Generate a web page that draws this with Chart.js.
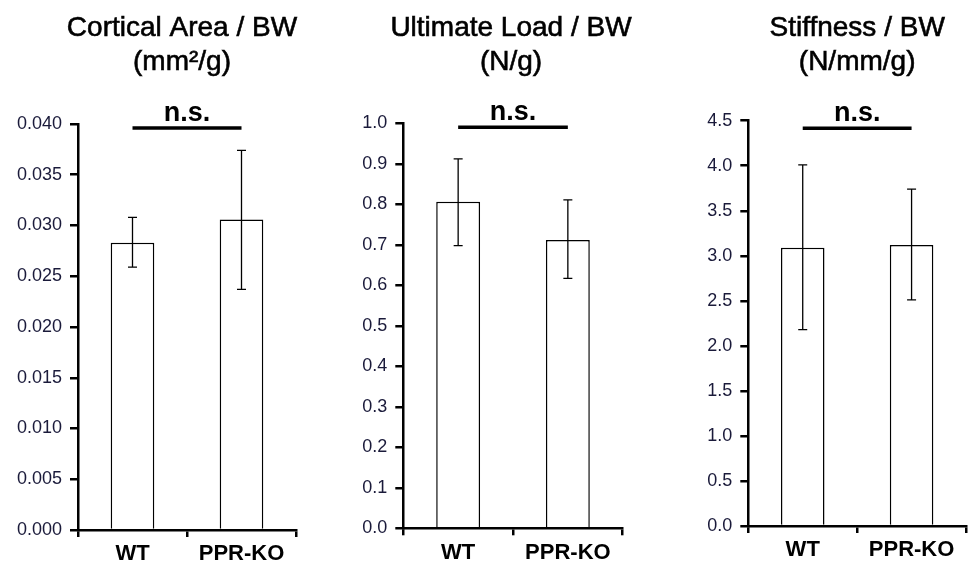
<!DOCTYPE html>
<html><head><meta charset="utf-8">
<script src="https://cdn.jsdelivr.net/npm/chart.js@4.4.1/dist/chart.umd.min.js"></script>
<style>
html,body{margin:0;padding:0;background:#fff;overflow:hidden}
#wrap{position:relative;width:970px;height:564px;overflow:hidden;background:#fff}
.p{position:absolute;top:0;height:564px}
canvas{display:block}
</style></head><body>
<div id="wrap">
<div class="p" style="left:0;width:320px"><canvas id="c1" width="320" height="564"></canvas></div>
<div class="p" style="left:320px;width:320px"><canvas id="c2" width="320" height="564"></canvas></div>
<div class="p" style="left:640px;width:330px"><canvas id="c3" width="330" height="564"></canvas></div>
</div>
<script>
// ---- data ----
const categories = ['WT', 'PPR-KO'];

const title1 = ['Cortical Area / BW', '(mm\u00B2/g)'];
const means1 = [0.0283, 0.0306];
const errHigh1 = [0.0308, 0.0374];
const errLow1 = [0.0259, 0.0237];
const yTicks1 = [0, 0.005, 0.010, 0.015, 0.020, 0.025, 0.030, 0.035, 0.040];
const yLabels1 = ['0.000', '0.005', '0.010', '0.015', '0.020', '0.025', '0.030', '0.035', '0.040'];

const title2 = ['Ultimate Load / BW', '(N/g)'];
const means2 = [0.806, 0.712];
const errHigh2 = [0.912, 0.811];
const errLow2 = [0.698, 0.617];
const yTicks2 = [0, 0.1, 0.2, 0.3, 0.4, 0.5, 0.6, 0.7, 0.8, 0.9, 1.0];
const yLabels2 = ['0.0', '0.1', '0.2', '0.3', '0.4', '0.5', '0.6', '0.7', '0.8', '0.9', '1.0'];

const title3 = ['Stiffness / BW', '(N/mm/g)'];
const means3 = [3.09, 3.12];
const errHigh3 = [4.01, 3.74];
const errLow3 = [2.18, 2.51];
const yTicks3 = [0, 0.5, 1.0, 1.5, 2.0, 2.5, 3.0, 3.5, 4.0, 4.5];
const yLabels3 = ['0.0', '0.5', '1.0', '1.5', '2.0', '2.5', '3.0', '3.5', '4.0', '4.5'];

const sigLabels = ['n.s.', 'n.s.', 'n.s.'];
const bracketValues = [0.0396, 0.99, 4.415];

// ---- plugins ----
const errorBars = {
  id: 'errorBars',
  afterDatasetsDraw(chart, args, opts) {
    const ctx = chart.ctx, y = chart.scales.y;
    const meta = chart.getDatasetMeta(0);
    ctx.save();
    ctx.strokeStyle = '#000';
    ctx.lineWidth = 1.3;
    meta.data.forEach((bar, i) => {
      const x = bar.x;
      const yh = y.getPixelForValue(opts.high[i]);
      const yl = y.getPixelForValue(opts.low[i]);
      ctx.beginPath();
      ctx.moveTo(x, yh); ctx.lineTo(x, yl);
      ctx.moveTo(x - 4.5, yh); ctx.lineTo(x + 4.5, yh);
      ctx.moveTo(x - 4.5, yl); ctx.lineTo(x + 4.5, yl);
      ctx.stroke();
    });
    ctx.restore();
  }
};

const sigBracket = {
  id: 'sigBracket',
  afterDraw(chart, args, opts) {
    const ctx = chart.ctx, y = chart.scales.y;
    const meta = chart.getDatasetMeta(0);
    const x0 = meta.data[0].x, x1 = meta.data[1].x;
    const yy = y.getPixelForValue(opts.value);
    ctx.save();
    ctx.strokeStyle = '#000';
    ctx.lineWidth = 3.5;
    ctx.beginPath();
    ctx.moveTo(x0, yy); ctx.lineTo(x1, yy);
    ctx.stroke();
    ctx.fillStyle = '#000';
    ctx.font = 'bold 27px "Liberation Sans", Arial, sans-serif';
    ctx.textAlign = 'center';
    ctx.textBaseline = 'alphabetic';
    ctx.fillText(opts.label, (x0 + x1) / 2, yy - 7);
    ctx.restore();
  }
};

const panelTitle = {
  id: 'panelTitle',
  afterDraw(chart, args, opts) {
    const ctx = chart.ctx, a = chart.chartArea;
    const cx = (a.left + a.right) / 2 + opts.dx;
    ctx.save();
    ctx.fillStyle = '#000';
    ctx.strokeStyle = '#000';
    ctx.lineWidth = 0.6;
    ctx.font = '28px "Liberation Sans", Arial, sans-serif';
    ctx.textAlign = 'center';
    ctx.textBaseline = 'middle';
    opts.lines.forEach((t, i) => {
      ctx.fillText(t, cx, 28 + i * 34);
      ctx.strokeText(t, cx, 28 + i * 34);
    });
    ctx.restore();
  }
};

function makeChart(id, d) {
  const axisFont = '"Liberation Sans", Arial, sans-serif';
  return new Chart(document.getElementById(id), {
    type: 'bar',
    data: {
      labels: categories,
      datasets: [{
        data: d.means,
        backgroundColor: '#ffffff',
        borderColor: '#000000',
        borderWidth: 1.5,
        categoryPercentage: 1,
        barPercentage: 0.4
      }]
    },
    plugins: [errorBars, sigBracket, panelTitle],
    options: {
      responsive: false,
      animation: false,
      devicePixelRatio: 1,
      layout: { padding: { left: 0, right: d.padRight, top: d.top, bottom: 0 } },
      plugins: {
        legend: { display: false },
        tooltip: { enabled: false },
        title: { display: false },
        panelTitle: { lines: d.title, dx: d.dx },
        errorBars: { high: d.high, low: d.low },
        sigBracket: { value: d.bracket, label: d.sig }
      },
      scales: {
        x: {
          grid: { display: true, drawOnChartArea: false, drawTicks: true, tickLength: 7, color: '#000', lineWidth: 2.5, offset: true },
          border: { display: true, color: '#000', width: 2.5 },
          ticks: { color: '#000', font: { family: axisFont, size: 22, weight: 'bold' }, padding: 4, maxRotation: 0 },
          afterFit(s) { s.height = d.xh; }
        },
        y: {
          min: 0,
          max: d.ticks[d.ticks.length - 1],
          afterBuildTicks(s) { s.ticks = d.ticks.map(v => ({ value: v })); },
          grid: { display: true, drawOnChartArea: false, drawTicks: true, tickLength: 8, color: '#000', lineWidth: 2.5 },
          border: { display: true, color: '#000', width: 2.5 },
          ticks: { color: '#1a1a3a', font: { family: axisFont, size: 18 }, padding: 8, callback: (v, i) => d.labels[i] },
          afterFit(s) { s.width = d.yw; }
        }
      }
    }
  });
}

makeChart('c1', { title: title1, means: means1, high: errHigh1, low: errLow1, ticks: yTicks1, labels: yLabels1,
  sig: sigLabels[0], bracket: bracketValues[0], yw: 78, padRight: 24, xh: 34, top: 124, dx: -5 });
makeChart('c2', { title: title2, means: means2, high: errHigh2, low: errLow2, ticks: yTicks2, labels: yLabels2,
  sig: sigLabels[1], bracket: bracketValues[1], yw: 83.3, padRight: 17.3, xh: 35.7, top: 123.3, dx: -2 });
makeChart('c3', { title: title3, means: means3, high: errHigh3, low: errLow3, ticks: yTicks3, labels: yLabels3,
  sig: sigLabels[2], bracket: bracketValues[2], yw: 108.3, padRight: 4, xh: 38, top: 120.7, dx: 0 });
</script>
</body></html>
